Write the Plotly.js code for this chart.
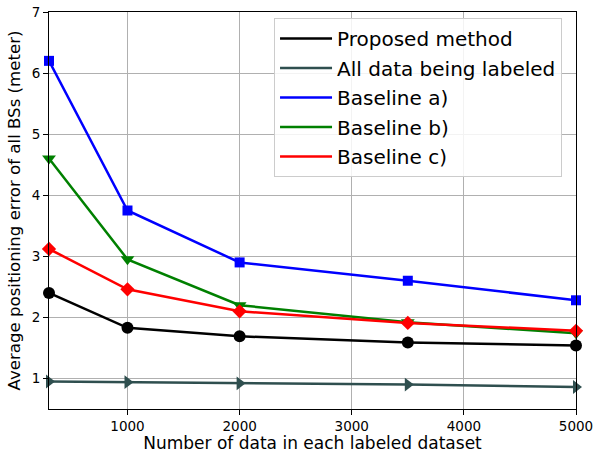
<!DOCTYPE html>
<html>
<head>
<meta charset="utf-8">
<script src="https://cdn.plot.ly/plotly-3.0.1.min.js"></script>
<style>html,body{margin:0;padding:0;background:#fff;}#chart{width:596px;height:453px;}</style>
</head>
<body>
<div id="chart"></div>
<script>
const xValues = [300, 1000, 2000, 3500, 5000];
const proposed = [2.40, 1.83, 1.69, 1.59, 1.54];
const allLabeled = [0.95, 0.94, 0.92, 0.90, 0.86];
const baselineA = [6.20, 3.75, 2.90, 2.60, 2.28];
const baselineB = [4.60, 2.95, 2.20, 1.92, 1.74];
const baselineC = [3.12, 2.46, 2.10, 1.91, 1.78];
const seriesNames = ['Proposed method', 'All data being labeled', 'Baseline a)', 'Baseline b)', 'Baseline c)'];
const xTicks = [1000, 2000, 3000, 4000, 5000];
const yTicks = [1, 2, 3, 4, 5, 6, 7];

const colors = ['#000000', '#2f4f4f', '#0000ff', '#008000', '#ff0000'];
const symbols = ['circle', 'triangle-right', 'square', 'triangle-down', 'diamond'];
const sizes = [12, 12, 10, 12, 11];
const ys = [proposed, allLabeled, baselineA, baselineB, baselineC];

const traces = [];
const drawOrder = [1, 2, 3, 4, 0];
drawOrder.forEach(i => {
  traces.push({
    x: xValues, y: ys[i], type: 'scatter', mode: 'lines+markers',
    line: {color: colors[i], width: 2.5},
    marker: {color: colors[i], symbol: symbols[i], size: sizes[i]},
    showlegend: false, cliponaxis: false
  });
});
seriesNames.forEach((n, i) => {
  traces.push({
    x: [null], y: [null], type: 'scatter', mode: 'lines', name: n,
    legendgroup: 'g' + i,
    line: {color: colors[i], width: 2.5}, showlegend: true
  });
});

const layout = {
  width: 596, height: 453,
  margin: {l: 49, r: 20, t: 12, b: 44},
  paper_bgcolor: '#fff', plot_bgcolor: '#fff',
  font: {family: 'DejaVu Sans', size: 14, color: '#000'},
  showlegend: true,
  legend: {
    x: 0.427, y: 0.985, xanchor: 'left', yanchor: 'top',
    bgcolor: 'rgba(255,255,255,0.85)', bordercolor: '#cccccc', borderwidth: 1,
    font: {family: 'DejaVu Sans', size: 20, color: '#000'},
    tracegroupgap: 0.5, itemwidth: 52
  },
  xaxis: {
    range: [300, 5000], tickvals: xTicks, ticktext: xTicks.map(String),
    showgrid: true, gridcolor: '#b0b0b0', gridwidth: 1,
    showline: true, linecolor: '#000', linewidth: 1, mirror: true,
    ticks: 'outside', ticklen: 5, tickcolor: '#000', zeroline: false,
    tickfont: {size: 13.5},
    title: {text: 'Number of data in each labeled dataset', font: {size: 17}, standoff: 3}
  },
  yaxis: {
    range: [0.5, 7], tickvals: yTicks, ticktext: yTicks.map(String),
    showgrid: true, gridcolor: '#b0b0b0', gridwidth: 1,
    showline: true, linecolor: '#000', linewidth: 1, mirror: true,
    ticks: 'outside', ticklen: 5, tickcolor: '#000', zeroline: false,
    tickfont: {size: 13.5},
    title: {text: 'Average positioning error of all BSs (meter)', font: {size: 16.6}, standoff: 6}
  }
};

Plotly.newPlot('chart', traces, layout, {displayModeBar: false, staticPlot: true});
</script>
</body>
</html>
